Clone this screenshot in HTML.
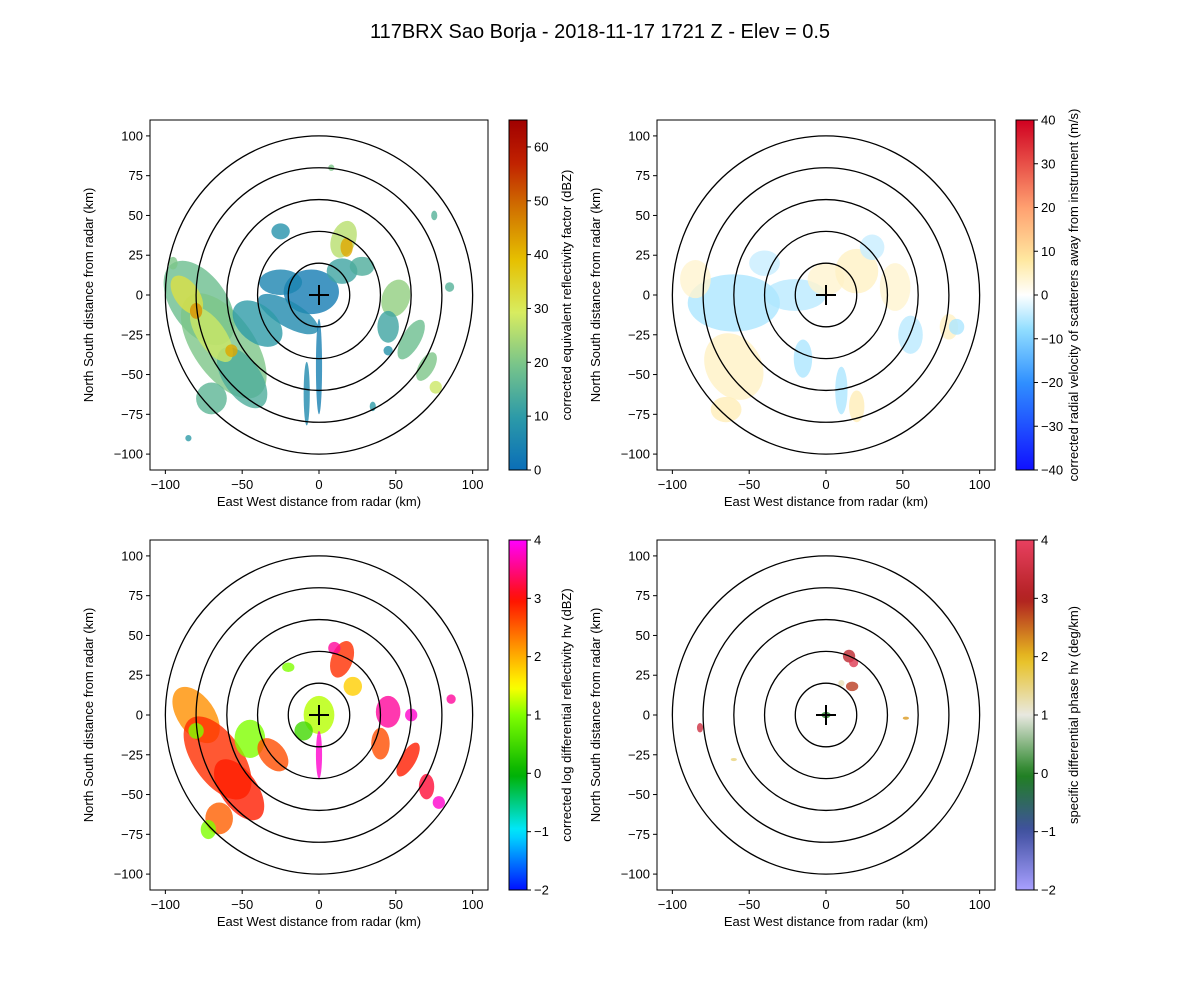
<!DOCTYPE html>
<html><head><meta charset="utf-8"><style>
body{margin:0;background:#fff}
svg text{font-family:"Liberation Sans","DejaVu Sans",sans-serif;fill:#000}
</style></head><body>
<svg id="fig" width="1200" height="1000" viewBox="0 0 1200 1000" xmlns="http://www.w3.org/2000/svg">
<text x="600" y="38" font-size="20" text-anchor="middle">117BRX Sao Borja - 2018-11-17 1721 Z -  Elev = 0.5</text>
</svg>
<script>
// ---- data ----
const xTicks = [-100, -50, 0, 50, 100];
const yTicks = [-100, -75, -50, -25, 0, 25, 50, 75, 100];
const rings = [20, 40, 60, 80, 100];
// echo cells: [x km, y km, rx km, ry km, value, rotation deg]
const reflCells = [
 [-5,2,18,14,3,0],[-25,8,14,8,5,0],[-20,-12,22,8,6,30],[0,-45,2,30,4,0],[-8,-62,2,20,6,0],[-25,40,6,5,8,0],
 [-78,-5,18,30,18,-35],[-62,-32,20,38,20,-35],[-50,-52,12,22,14,-35],[-86,0,8,14,32,-35],[-70,-25,9,20,28,-35],[-80,-10,4,5,45,0],[-57,-35,4,4,42,0],[-40,-18,12,18,10,-50],[-70,-65,10,10,16,0],
 [16,35,8,12,26,20],[18,30,4,6,42,0],[15,15,10,8,12,0],[28,18,8,6,14,0],
 [50,-2,9,12,22,20],[45,-20,7,10,12,0],[60,-28,6,14,18,30],[70,-45,5,10,20,30],[76,-58,4,4,28,0],[45,-35,3,3,8,0],
 [35,-70,2,3,10,0],[-85,-90,2,2,10,0],[75,50,2,3,15,0],[-95,20,3,4,20,0],[8,80,2,2,20,0],[85,5,3,3,15,0]
];
const velCells = [
 [-20,0,20,10,-5,0],[-60,-5,30,18,-6,0],[-60,-45,18,22,5,-30],[-85,10,10,12,4,0],[0,10,12,10,4,0],[20,15,14,14,5,0],[45,5,10,15,4,0],[55,-25,8,12,-5,0],[-15,-40,6,12,-6,0],[10,-60,4,15,-6,0],[-65,-72,10,8,6,0],[30,30,8,8,-4,0],[80,-20,6,8,5,0],[-40,20,10,8,-4,0],[20,-70,5,10,6,0],[85,-20,5,5,-6,0]
];
const zdrCells = [
 [0,0,10,12,1.2,0],[-10,-10,6,6,0.5,0],[0,-25,2,15,3.8,0],[-80,0,12,20,2.2,-35],[-66,-27,16,30,2.8,-35],[-52,-47,12,22,2.9,-35],[-65,-65,9,10,2.5,0],[-72,-72,5,6,1.0,0],[-45,-15,10,12,1.0,0],[-30,-25,8,12,2.6,-40],[-80,-10,5,5,1.0,0],
 [15,35,7,12,2.8,20],[22,18,6,6,1.8,0],[10,42,4,4,3.6,0],[45,2,8,10,3.6,0],[40,-18,6,10,2.6,0],[58,-28,5,12,2.9,30],[70,-45,5,8,3.2,0],[78,-55,4,4,3.8,0],[60,0,4,4,3.8,0],[86,10,3,3,3.6,0],[-20,30,4,3,1.0,0]
];
const kdpCells = [
 [15,37,4,4,3.2,0],[18,33,3,3,3.8,0],[17,18,4,3,2.8,0],[10,20,2,2,1.2,0],[-82,-8,2,3,3.5,0],[-60,-28,2,1,1.5,0],[52,-2,2,1,2.2,0],[0,0,3,2,0,0]
];
// ---- colormaps ----
const cmRefl=[[0,'#0a6eb8'],[0.15,'#2c9aa8'],[0.3,'#78c48a'],[0.45,'#d8ec60'],[0.6,'#e6c000'],[0.75,'#d07000'],[0.88,'#c02000'],[1,'#a00000']];
const cmVel=[[0,'#1010ff'],[0.25,'#3090ff'],[0.4,'#90ddff'],[0.5,'#ffffff'],[0.6,'#ffe8a0'],[0.75,'#ffa070'],[1,'#d00020']];
const cmZdr=[[0,'#0010ff'],[0.17,'#00e8ff'],[0.33,'#00b000'],[0.5,'#80ff00'],[0.58,'#ffff00'],[0.7,'#ff9000'],[0.83,'#ff1000'],[1,'#ff00ff']];
const cmKdp=[[0,'#a8a0ff'],[0.17,'#4050a0'],[0.33,'#208020'],[0.5,'#e8e8e0'],[0.66,'#e8c020'],[0.83,'#b02020'],[1,'#e84060']];
function hex(c){return [1,3,5].map(i=>parseInt(c.substr(i,2),16));}
function cmap(cm,t){t=Math.max(0,Math.min(1,t));for(let i=1;i<cm.length;i++){if(t<=cm[i][0]){const a=cm[i-1],b=cm[i];const f=(t-a[0])/(b[0]-a[0]);const A=hex(a[1]),B=hex(b[1]);return 'rgb('+A.map((v,k)=>Math.round(v+(B[k]-v)*f)).join(',')+')';}}return cm[cm.length-1][1];}
const NS='http://www.w3.org/2000/svg';
const svg=document.getElementById('fig');
function el(tag,attrs,parent,txt){const e=document.createElementNS(NS,tag);for(const k in attrs)e.setAttribute(k,attrs[k]);if(txt!==undefined)e.textContent=txt;(parent||svg).appendChild(e);return e;}
const W=338,H=350;
const panels=[
 {L:150,T:120,cells:reflCells,cm:cmRefl,vmin:0,vmax:65,cbt:[0,10,20,30,40,50,60],lab:'corrected equivalent reflectivity factor (dBZ)',name:'reflectivity'},
 {L:657,T:120,cells:velCells,cm:cmVel,vmin:-40,vmax:40,cbt:[-40,-30,-20,-10,0,10,20,30,40],lab:'corrected radial velocity of scatterers away from instrument (m/s)',name:'velocity'},
 {L:150,T:540,cells:zdrCells,cm:cmZdr,vmin:-2,vmax:4,cbt:[-2,-1,0,1,2,3,4],lab:'corrected log differential reflectivity hv (dBZ)',name:'zdr'},
 {L:657,T:540,cells:kdpCells,cm:cmKdp,vmin:-2,vmax:4,cbt:[-2,-1,0,1,2,3,4],lab:'specific differential phase hv (deg/km)',name:'kdp'}
];
panels.forEach((p,pi)=>{
 const sx=v=>p.L+(v+110)/220*W, sy=v=>p.T+H-(v+110)/220*H;
 const kx=W/220, ky=H/220;
 const g=el('g',{});  
 const cp=el('clipPath',{id:'cp'+pi},g); el('rect',{x:p.L,y:p.T,width:W,height:H},cp);
 const dg=el('g',{'clip-path':'url(#cp'+pi+')'},g);
 p.cells.forEach(c=>{
  const cx=sx(c[0]),cy=sy(c[1]);
  const e=el('ellipse',{cx:cx,cy:cy,rx:c[2]*kx,ry:c[3]*ky,fill:cmap(p.cm,(c[4]-p.vmin)/(p.vmax-p.vmin)),opacity:0.8,transform:`rotate(${c[5]||0} ${cx} ${cy})`},dg);
  
  
 });
 rings.forEach(r=>{const e=el('ellipse',{cx:sx(0),cy:sy(0),rx:r*kx,ry:r*ky,fill:'none',stroke:'#000','stroke-width':1.3},dg);
  
  });
 el('path',{d:`M${sx(0)-10},${sy(0)}h20M${sx(0)},${sy(0)-10}v20`,stroke:'#000','stroke-width':2},dg);
 const fr=el('rect',{x:p.L,y:p.T,width:W,height:H,fill:'none',stroke:'#000','stroke-width':1},g);
 
 
 xTicks.forEach(t=>{el('line',{x1:sx(t),x2:sx(t),y1:p.T+H,y2:p.T+H+4,stroke:'#000'},g);
  const tx=el('text',{x:sx(t),y:p.T+H+19,'font-size':13,'text-anchor':'middle'},g,t<0?'\u2212'+(-t):t);
  
  });
 yTicks.forEach(t=>{el('line',{x1:p.L-4,x2:p.L,y1:sy(t),y2:sy(t),stroke:'#000'},g);
  const tx=el('text',{x:p.L-7,y:sy(t)+4.5,'font-size':13,'text-anchor':'end'},g,t<0?'\u2212'+(-t):t);
  
  });
 const xl=el('text',{x:p.L+W/2,y:p.T+H+36,'font-size':13,'text-anchor':'middle'},g,'East West distance from radar (km)');
 
 
 const yl=el('text',{x:0,y:0,'font-size':13,'text-anchor':'middle',transform:`translate(${p.L-57},${p.T+H/2}) rotate(-90)`},g,'North South distance from radar (km)');
 
 
 const cbx=p.L+359, cbw=18;
 const gid='gr'+pi; const lg=el('linearGradient',{id:gid,x1:0,y1:1,x2:0,y2:0},g);
 for(let i=0;i<=40;i++){el('stop',{offset:i/40,'stop-color':cmap(p.cm,i/40)},lg);}
 const cb=el('rect',{x:cbx,y:p.T,width:cbw,height:H,fill:`url(#${gid})`,stroke:'#000','stroke-width':1},g);
 
 
 p.cbt.forEach(t=>{const y=p.T+H-(t-p.vmin)/(p.vmax-p.vmin)*H;
  el('line',{x1:cbx+cbw,x2:cbx+cbw+4,y1:y,y2:y,stroke:'#000'},g);
  const tx=el('text',{x:cbx+cbw+7,y:y+4.5,'font-size':13},g,t<0?'\u2212'+(-t):t);
  
  });
 const cl=el('text',{x:0,y:0,'font-size':13,'text-anchor':'middle',transform:`translate(${cbx+cbw+44},${p.T+H/2}) rotate(-90)`},g,p.lab);
 
 
});
</script>
</body></html>
